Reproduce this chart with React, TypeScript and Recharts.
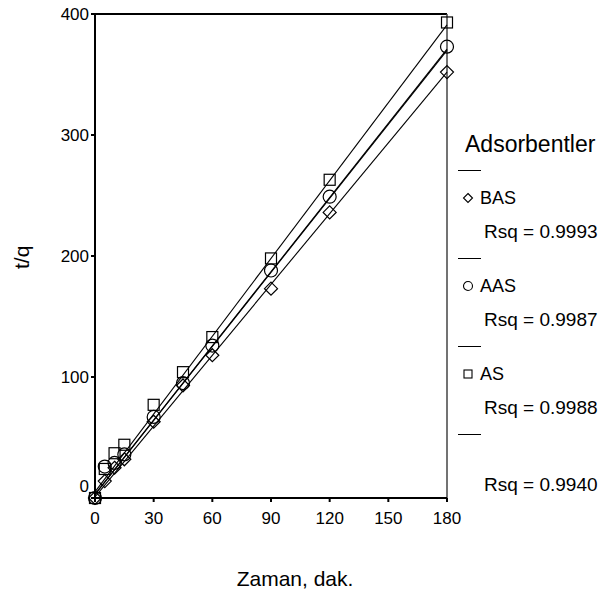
import React from 'react';
import { ComposedChart, Scatter, Line, XAxis, YAxis, ReferenceLine } from 'recharts';

// sampling times (dak.)
const times = [0, 5, 10, 15, 30, 45, 60, 90, 120, 180];
// t/q values
const basValues = [0, 14, 25, 32, 63, 93, 118, 173, 236, 352];
const aasValues = [0, 26, 29, 36, 67, 95, 126, 188, 249, 373];
const asValues = [0, 24, 37, 44, 77, 104, 133, 198, 263, 393];

// fitted line end points (t = 0 and t = 180)
const fitTimes = [0, 180];
const basFit = [1, 352];
const aasFit = [3, 371];
const asFit = [5, 391];
const totalFit = [3, 370];

const xTicks = [0, 30, 60, 90, 120, 150, 180];
const yTicks = [0, 100, 200, 300, 400];

const legendItems = [
  { name: 'BAS', rsq: 'Rsq = 0.9993', marker: 'diamond' },
  { name: 'AAS', rsq: 'Rsq = 0.9987', marker: 'circle' },
  { name: 'AS', rsq: 'Rsq = 0.9988', marker: 'square' },
  { name: '', rsq: 'Rsq = 0.9940', marker: '' },
];

const toPoints = (xs: number[], ys: number[]) => xs.map((t, i) => ({ t, v: ys[i] }));

const FONT = '"Liberation Sans", Arial, sans-serif';

const Diamond = (props: any) => {
  const { cx, cy } = props;
  const r = 6.5;
  return (
    <path
      d={`M${cx},${cy - r}L${cx + r},${cy}L${cx},${cy + r}L${cx - r},${cy}Z`}
      fill="none"
      stroke="#000"
      strokeWidth={1.2}
    />
  );
};

const Circle = (props: any) => {
  const { cx, cy } = props;
  return <circle cx={cx} cy={cy} r={6.5} fill="none" stroke="#000" strokeWidth={1.2} />;
};

const Square = (props: any) => {
  const { cx, cy } = props;
  return <rect x={cx - 5.5} y={cy - 5.5} width={11} height={11} fill="none" stroke="#000" strokeWidth={1.2} />;
};

// y tick: the "0" label sits a bit above its tick in the original
const YTick = (props: any) => {
  const { x, y, payload } = props;
  const lift = payload.value === 0 ? -12 : 0;
  return (
    <text x={x} y={y + lift} dy="0.355em" textAnchor="end" fill="#000" fontSize={17} fontFamily={FONT}>
      {payload.value}
    </text>
  );
};

const LegendMarker = ({ kind }: { kind: string }) => {
  if (!kind) return <span style={{ display: 'inline-block', width: 12 }} />;
  return (
    <svg width={12} height={12} style={{ marginRight: 6, verticalAlign: 'middle' }}>
      {kind === 'diamond' && <path d="M6,1.5L10.5,6L6,10.5L1.5,6Z" fill="none" stroke="#000" strokeWidth={1.1} />}
      {kind === 'circle' && <circle cx={6} cy={6} r={4.5} fill="none" stroke="#000" strokeWidth={1.1} />}
      {kind === 'square' && <rect x={2} y={2} width={8} height={8} fill="none" stroke="#000" strokeWidth={1.1} />}
    </svg>
  );
};

export default function App() {
  return (
    <div style={{ position: 'absolute', left: 0, top: 0, width: 600, height: 600, background: '#fff', fontFamily: FONT }}>
      <ComposedChart width={600} height={600} margin={{ top: 14, right: 153, left: 50, bottom: 72 }}>
        <XAxis
          type="number"
          dataKey="t"
          domain={[0, 180]}
          ticks={xTicks}
          interval={0}
          tickSize={4}
          tickMargin={10}
          tick={{ fill: '#000', fontSize: 17, fontFamily: FONT }}
          axisLine={{ stroke: '#000', strokeWidth: 2 }}
          tickLine={{ stroke: '#000', strokeWidth: 2 }}
          height={30}
        />
        <YAxis
          type="number"
          dataKey="v"
          domain={[0, 400]}
          ticks={yTicks}
          interval={0}
          tickSize={4}
          tick={<YTick />}
          axisLine={{ stroke: '#000', strokeWidth: 2 }}
          tickLine={{ stroke: '#000', strokeWidth: 2 }}
          width={45}
        />
        <ReferenceLine y={400} stroke="#000" strokeWidth={2} ifOverflow="visible" />
        <ReferenceLine x={180} stroke="#444" strokeWidth={1.5} ifOverflow="visible" />
        <Line data={toPoints(fitTimes, asFit)} dataKey="v" type="linear" stroke="#000" strokeWidth={1.1} dot={false} isAnimationActive={false} />
        <Line data={toPoints(fitTimes, aasFit)} dataKey="v" type="linear" stroke="#000" strokeWidth={1.1} dot={false} isAnimationActive={false} />
        <Line data={toPoints(fitTimes, totalFit)} dataKey="v" type="linear" stroke="#000" strokeWidth={1.1} dot={false} isAnimationActive={false} />
        <Line data={toPoints(fitTimes, basFit)} dataKey="v" type="linear" stroke="#000" strokeWidth={1.1} dot={false} isAnimationActive={false} />
        <Scatter data={toPoints(times, basValues)} shape={Diamond} isAnimationActive={false} />
        <Scatter data={toPoints(times, aasValues)} shape={Circle} isAnimationActive={false} />
        <Scatter data={toPoints(times, asValues)} shape={Square} isAnimationActive={false} />
      </ComposedChart>

      <div style={{ position: 'absolute', left: 0, top: 257, width: 0, height: 0 }}>
        <div style={{ position: 'absolute', left: 10, top: -12, transform: 'rotate(-90deg)', transformOrigin: '12px 12px', fontSize: 21, whiteSpace: 'nowrap' }}>
          t/q
        </div>
      </div>
      <div style={{ position: 'absolute', left: 195, top: 567, width: 200, textAlign: 'center', fontSize: 21 }}>Zaman, dak.</div>

      <div style={{ position: 'absolute', left: 465, top: 131, fontSize: 23 }}>Adsorbentler</div>
      {legendItems.map((item, i) => {
        const top = 170 + i * 88;
        return (
          <div key={i}>
            <div style={{ position: 'absolute', left: 458, top, width: 23, borderTop: '1px solid #000' }} />
            {item.name && (
              <div style={{ position: 'absolute', left: 462, top: top + 17, fontSize: 18, whiteSpace: 'nowrap' }}>
                <LegendMarker kind={item.marker} />
                <span style={{ verticalAlign: 'middle' }}>{item.name}</span>
              </div>
            )}
            <div style={{ position: 'absolute', left: 484, top: item.name ? top + 51 : top + 40, fontSize: 19, whiteSpace: 'nowrap' }}>
              {item.rsq}
            </div>
          </div>
        );
      })}
    </div>
  );
}
